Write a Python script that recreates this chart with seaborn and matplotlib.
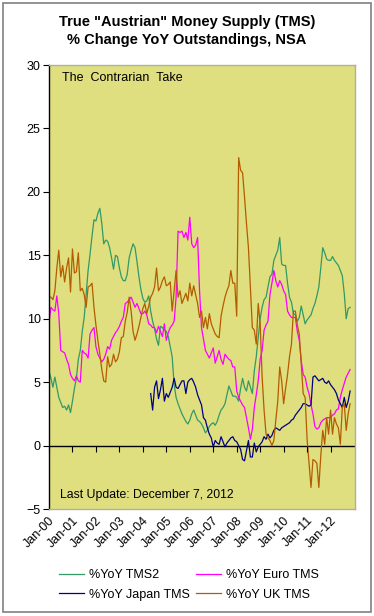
import numpy as np
import pandas as pd
import seaborn as sns
import matplotlib.pyplot as plt
import matplotlib.transforms as mtransforms
from matplotlib.patches import Rectangle

# Monthly YoY % change, Jan-2000 .. Nov-2012 (one row per year)
tms2 = [5.9, 5.3, 4.6, 5.4, 4.6, 3.8, 3.4, 3.0, 3.1, 2.8, 3.2, 2.6,
        3.5, 4.5, 5.3, 6.8, 7.5, 9.0, 10.1, 12.0, 13.8, 15.1, 16.5, 17.8,
        17.7, 18.3, 18.7, 17.5, 15.9, 16.2, 16.1, 15.6, 14.8, 13.9, 15.0, 14.9,
        14.0, 13.3, 13.0, 13.0, 13.5, 14.8, 15.4, 15.9, 15.6, 14.5, 13.3, 12.3,
        11.6, 11.3, 11.4, 11.8, 10.6, 9.8, 9.2, 8.4, 7.9, 9.4, 9.3, 9.1,
        9.0, 8.6, 7.8, 7.0, 4.8, 3.8, 3.3, 2.9, 2.5, 2.2, 1.9, 1.7,
        2.0, 2.5, 2.8, 2.4, 2.0, 1.9, 1.7, 1.4, 1.0, 1.2, 1.5, 1.7,
        1.8, 1.6, 1.9, 2.4, 2.8, 3.0, 3.3, 4.0, 4.7, 4.3, 3.9, 3.9,
        3.8, 3.5, 4.5, 5.3, 4.6, 4.3, 5.1, 4.6, 4.1, 5.9, 7.0, 8.5,
        10.0, 10.9, 11.5, 11.7, 12.5, 13.3, 13.5, 14.6, 15.0, 15.4, 16.4, 14.3,
        14.2, 14.2, 12.8, 11.7, 11.3, 10.4, 10.3, 9.8, 10.1, 11.0, 10.3, 9.6,
        9.9, 10.1, 10.3, 10.8, 11.2, 11.8, 12.5, 14.0, 15.6, 15.2, 14.7, 14.6,
        14.6, 14.9, 14.6, 14.4, 14.2, 13.8, 13.4, 12.0, 10.0, 10.8, 10.9]

euro = [9.7, 10.9, 10.7, 10.6, 11.8, 10.4, 7.5, 7.4, 7.3, 6.8, 6.4, 5.6,
        5.3, 5.1, 5.5, 5.1, 5.0, 7.5, 7.3, 7.2, 6.9, 8.8, 9.1, 9.3,
        7.8, 7.2, 6.9, 6.6, 6.8, 7.2, 7.8, 7.6, 8.3, 8.6, 8.9, 9.1,
        9.4, 9.8, 10.1, 11.2, 11.3, 11.5, 11.7, 11.3, 10.9, 11.2, 10.8, 10.4,
        10.4, 10.6, 10.3, 9.6, 9.5, 9.3, 9.3, 8.9, 9.4, 9.0, 8.6, 9.6,
        8.3, 8.9, 9.3, 9.5, 9.8, 11.7, 16.9, 16.8, 16.9, 16.4, 16.8, 16.2,
        18.0, 15.9, 15.6, 15.8, 16.4, 12.2, 9.3, 8.4, 7.5, 7.2, 6.9, 7.3,
        7.7, 6.5, 7.0, 7.5, 6.8, 6.4, 7.2, 7.0, 6.8, 6.7, 6.2, 6.2,
        4.3, 3.8, 3.5, 3.2, 3.0, 2.2, 1.4, 0.5, 1.3, 3.0, 4.0, 5.1,
        6.8, 7.5, 9.1, 9.5, 9.8, 11.9, 12.8, 13.8, 13.0, 12.5, 13.0, 12.7,
        12.2, 11.9, 10.6, 10.3, 10.1, 10.1, 10.1, 9.0, 8.3, 6.7, 5.6, 5.4,
        4.6, 4.1, 3.2, 2.5, 1.5, 1.3, 1.4, 1.8, 2.0, 2.1, 2.2, 2.2,
        2.2, 2.4, 2.5, 2.8, 2.9, 3.8, 4.4, 4.9, 5.4, 5.7, 6.0]

nan = np.nan
japan = [nan] * 48 + [
        nan, nan, nan, nan, 4.1, 2.8, 4.6, 5.1, 3.7, 4.4, 5.3, 3.5,
        4.1, 3.8, 4.2, 4.6, 5.3, 4.6, 4.5, 4.8, 5.1, 5.1, 4.1, 5.0,
        5.2, 5.3, 5.0, 4.6, 4.0, 3.6, 3.2, 2.2, 2.0, 1.4, 0.9, 0.6,
        -0.1, 0.4, 0.2, 0.1, 0.7, 0.3, -0.1, 0.2, 0.4, 0.6, 0.7, 0.4,
        0.3, 0.0, -0.3, -1.1, -1.2, -0.4, 0.4, -0.9, -0.9, 0.2, -0.5, -0.1,
        0.1, 0.3, 0.7, 0.5, 0.9, 0.6, 0.8, 1.2, 1.4, 1.3, 1.2, 1.4,
        1.5, 1.6, 1.7, 1.8, 2.0, 2.1, 2.4, 2.6, 2.8, 3.0, 3.3, 3.3,
        3.2, 3.1, 3.2, 5.4, 5.5, 5.3, 5.1, 5.2, 5.3, 5.0, 4.9, 5.1,
        4.8, 4.6, 4.4, 4.1, 3.6, 3.3, 3.0, 3.8, 3.0, 3.5, 4.3]

uk = [11.7, 11.7, 11.5, 12.2, 14.0, 15.4, 13.3, 14.2, 12.9, 14.0, 14.8, 12.1,
      15.5, 13.6, 13.7, 15.2, 12.2, 12.4, 11.9, 10.9, 12.5, 12.6, 12.8, 10.9,
      9.5, 8.3, 7.2, 6.0, 5.1, 5.0, 7.0, 6.2, 6.4, 7.2, 6.6, 6.8,
      7.4, 8.5, 8.6, 9.8, 10.5, 11.7, 10.6, 9.0, 8.3, 8.8, 9.4, 10.1,
      10.8, 11.2, 10.4, 11.0, 11.7, 12.0, 12.5, 14.0, 12.2, 12.5, 13.0, 13.3,
      12.6, 12.7, 12.9, 10.6, 12.2, 13.8, 11.7, 12.2, 11.2, 11.6, 12.0, 11.4,
      12.8, 11.8, 12.6, 11.9, 11.2, 10.1, 10.6, 9.3, 10.1, 9.2, 10.4, 9.6,
      9.2, 8.8, 8.6, 8.5, 10.2, 11.0, 11.7, 12.2, 12.6, 13.8, 12.8, 12.8,
      10.2, 22.7, 21.7, 21.5, 19.6, 17.5, 15.6, 12.5, 9.3, 9.1, 8.0, 11.2,
      9.6, 5.4, 2.8, 0.9, 0.6, 0.4, 0.0, 0.4, 2.0, 3.5, 6.2, 5.1,
      3.3, 4.5, 5.6, 7.0, 8.0, 10.6, 10.6, 9.5, 8.8, 6.4, 4.1, 3.8,
      0.5, -1.4, -3.3, -1.1, -1.2, -1.4, -3.3, -0.8, 1.2, 0.1, 2.2, 0.9,
      2.8, 0.9, 2.2, 1.7, 1.4, 0.1, 3.0, 3.3, 1.2, 2.5, 3.3]

series_names = ['%YoY TMS2', '%YoY Euro TMS', '%YoY Japan TMS', '%YoY UK TMS']
colors = ['#339966', '#ff00ff', '#000080', '#b35c00']
year_labels = ['Jan-%02d' % y for y in range(13)]

df = pd.DataFrame({'month': np.arange(len(tms2)),
                   series_names[0]: tms2, series_names[1]: euro,
                   series_names[2]: japan, series_names[3]: uk})
long = df.melt('month', var_name='series', value_name='yoy').dropna()

plt.rcParams['font.family'] = ['Liberation Sans', 'DejaVu Sans']

fig = plt.figure(figsize=(3.74, 6.16), dpi=100)
ax = fig.add_axes([49 / 374, 1 - 509 / 616, 306 / 374, 444 / 616])
ax.set_facecolor('#dfdf80')

sns.lineplot(data=long, x='month', y='yoy', hue='series', hue_order=series_names,
             palette=dict(zip(series_names, colors)), linewidth=0.9,
             estimator=None, legend=False, ax=ax)

# category axis crossing at zero, Excel style
ax.axhline(0, color='black', linewidth=1, zorder=1)
xt = np.arange(0, 145, 12)
ax.plot(xt, np.zeros(len(xt)), ls='none', marker=3, ms=4, mew=0.8,
        color='black', clip_on=False)

ax.set_xlim(0, 156.5)
ax.set_ylim(-5, 30)
ax.set_yticks(range(-5, 31, 5))
ax.set_xticks(xt)
ax.set_xticklabels(year_labels, rotation=45, ha='right', va='center',
                   rotation_mode='anchor')
ax.tick_params(axis='x', length=0, pad=7, labelsize=9)
ax.tick_params(axis='y', direction='out', length=4, width=0.8, pad=2, labelsize=9)
shift = mtransforms.ScaledTranslation(4 / 100, 0, fig.dpi_scale_trans)
for lab in ax.get_xticklabels():
    lab.set_transform(lab.get_transform() + shift)
ax.set_xlabel('')
ax.set_ylabel('')
ax.spines['left'].set_color('black')
ax.spines['left'].set_linewidth(1)
for s in ['top', 'right', 'bottom']:
    ax.spines[s].set_color('#b0b0a0')
    ax.spines[s].set_linewidth(1)

ax.text(0.042, 0.971, 'The  Contrarian  Take', transform=ax.transAxes,
        ha='left', va='center', fontsize=9)
ax.text(0.036, 0.032, 'Last Update: December 7, 2012', transform=ax.transAxes,
        ha='left', va='center', fontsize=8.8)

fig.text(0.5, 1 - 22 / 616, 'True "Austrian" Money Supply (TMS)',
         ha='center', va='center', fontsize=10.5, fontweight='bold')
fig.text(0.5, 1 - 40 / 616, '% Change YoY Outstandings, NSA',
         ha='center', va='center', fontsize=10.5, fontweight='bold')

handles = ax.get_lines()[:4]
order = [0, 2, 1, 3]
fig.legend([handles[i] for i in order], [series_names[i] for i in order],
           ncol=2, loc='center', bbox_to_anchor=(0.505, 1 - 585 / 616),
           frameon=False, fontsize=9, handlelength=2.0, handletextpad=0.4,
           columnspacing=0.5, labelspacing=0.6)

fig.patches.append(Rectangle((3 / 374, 4 / 616), 368 / 374, 609 / 616,
                             transform=fig.transFigure, fill=False,
                             edgecolor='#808080', linewidth=1.2))

fig.savefig('out.png', dpi=100)
